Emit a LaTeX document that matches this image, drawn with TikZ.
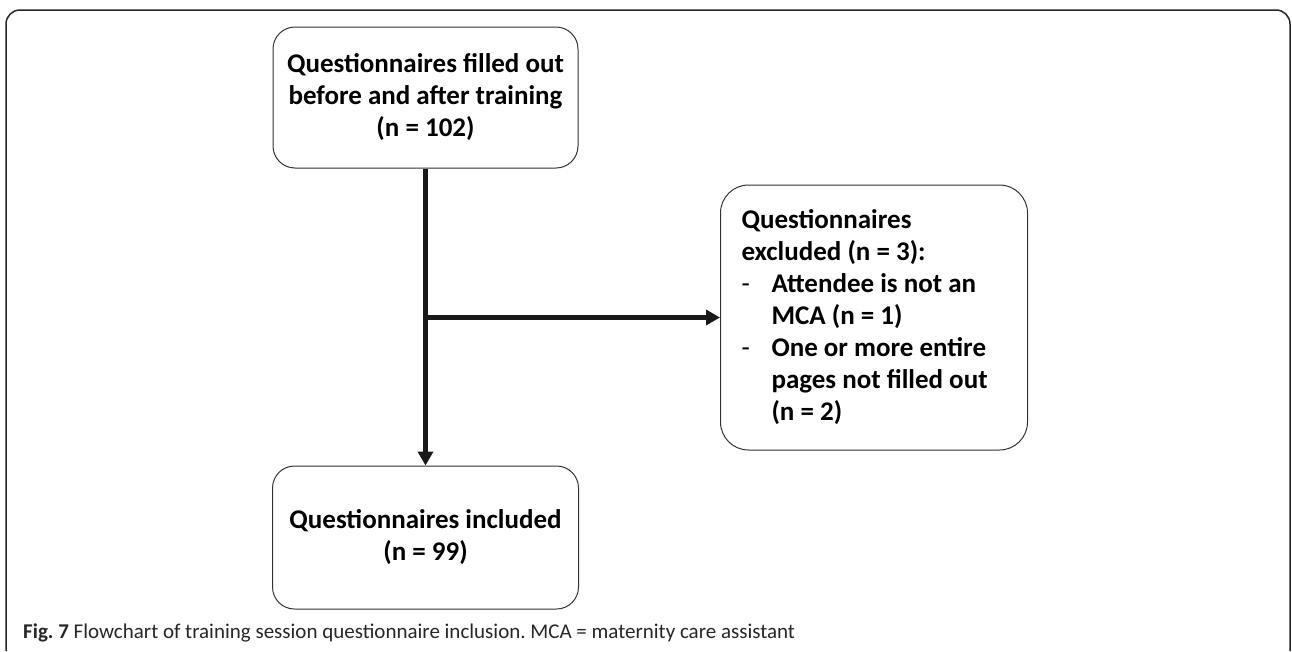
\documentclass[tikz,border=0pt]{standalone}
\usepackage{fontspec}
\setmainfont{Carlito}
\usepackage{xcolor}
\usepackage{tikz}
\usetikzlibrary{arrows.meta}
\frenchspacing

\begin{document}
\begin{tikzpicture}[
  x=1pt, y=-1pt,
  qbox/.style={draw=black!80, line width=1pt, rounded corners=22pt,
    font=\fontsize{27}{32}\selectfont\bfseries, inner sep=0pt},
  flow/.style={draw=black!90, line width=4.5pt,
    -{Triangle[length=14pt,width=15pt]}}
]

\useasboundingbox (0,0) rectangle (1292,651);

% outer frame, open at the bottom
\draw [black!85, line width=1.5pt, rounded corners=14pt]
  (6,651) -- (6,10) -- (1290,10) -- (1290,651);

\node [qbox, minimum width=305pt, minimum height=141pt, align=center]
  (qfill) at (425.5,97.5)
  {Questionnaires filled out\\before and after training\\(n = 102)};

\node [qbox, minimum width=306pt, minimum height=143pt, align=center]
  (qincl) at (425.5,537.5)
  {Questionnaires included\\(n = 99)};

\node [qbox, rounded corners=28pt, minimum width=307pt, minimum height=265pt,
  text width=265pt, align=flush left]
  (qexcl) at (874,317.5)
  {Questionnaires\\
   excluded (n = 3):\\
   \makebox[30pt][l]{\mdseries -}Attendee is not an\\
   \hspace*{30pt}MCA (n = 1)\\
   \makebox[30pt][l]{\mdseries -}One or more entire\\
   \hspace*{30pt}pages not filled out\\
   \hspace*{30pt}(n = 2)};

\coordinate (split) at (qfill.south |- qexcl.west);

\draw [flow] (qfill.south) -- (qincl.north);
\draw [flow] (split) -- (qexcl.west);

\node [anchor=base west, inner sep=0pt, font=\fontsize{21}{24}\selectfont,
  text=black!85] (cap) at (23,638)
  {\textbf{Fig. 7} Flowchart of training session questionnaire inclusion. MCA = maternity care assistant};

\end{tikzpicture}
\end{document}
